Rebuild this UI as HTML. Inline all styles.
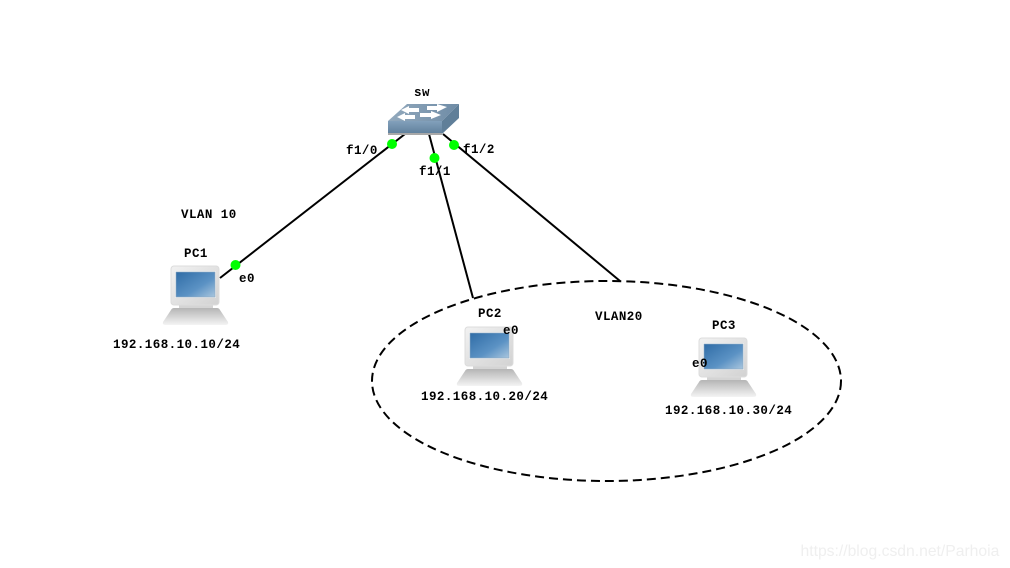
<!DOCTYPE html>
<html>
<head>
<meta charset="utf-8">
<style>
html,body{margin:0;padding:0;background:#fff;width:1010px;height:568px;overflow:hidden}
svg{display:block}
text{font-family:"Liberation Mono","Noto Serif CJK SC",monospace;font-weight:bold;font-size:12.5px;fill:#000;letter-spacing:.45px}
</style>
</head>
<body>
<svg width="1010" height="568" viewBox="0 0 1010 568" xmlns="http://www.w3.org/2000/svg">
<defs>
<linearGradient id="bez" x1="0" y1="0" x2="1" y2="1"><stop offset="0" stop-color="#f2f2f2"/><stop offset="1" stop-color="#d2d2d2"/></linearGradient>
<linearGradient id="scr" x1="0" y1="0" x2="1" y2="1"><stop offset="0" stop-color="#2f6ca6"/><stop offset=".6" stop-color="#5b92c4"/><stop offset="1" stop-color="#a9c6de"/></linearGradient>
<linearGradient id="kb" x1="0" y1="0" x2="0" y2="1"><stop offset="0" stop-color="#b5b5b5"/><stop offset="1" stop-color="#f4f4f4"/></linearGradient>
<linearGradient id="front" x1="0" y1="0" x2="0" y2="1"><stop offset="0" stop-color="#82a0bb"/><stop offset="1" stop-color="#5f7f9b"/></linearGradient>
<linearGradient id="top" x1="0" y1="0" x2="1" y2="0"><stop offset="0" stop-color="#92a9bd"/><stop offset="1" stop-color="#6f8ca6"/></linearGradient>
<g id="pc">
<rect x="8" y="37" width="34" height="7" fill="#d4d4d4"/>
<path d="M3 42H46Q48 42 49 44L57 56Q58 59 54 59H-5Q-9 59 -8 56L0 44Q1 42 3 42Z" fill="url(#kb)"/>
<rect x="0" y="0" width="48" height="39" rx="3" fill="url(#bez)" stroke="#dcdcdc"/>
<rect x="4" y="5" width="41" height="27" fill="#fff" opacity=".5"/>
<rect x="5" y="6" width="39" height="25" fill="url(#scr)" stroke="#8da9c2" stroke-width=".6"/>
</g>
</defs>

<rect width="1010" height="568" fill="#fff"/>

<ellipse cx="606.5" cy="381" rx="234.5" ry="100" fill="none" stroke="#000" stroke-width="2" stroke-dasharray="9 5"/>

<g stroke="#000" stroke-width="2" fill="none">
<line x1="405" y1="134" x2="220" y2="278"/>
<line x1="429" y1="134" x2="473" y2="298"/>
<line x1="443" y1="134" x2="620" y2="281"/>
</g>

<!-- switch -->
<path d="M388 121L407 104H459L442 121Z" fill="url(#top)"/>
<path d="M442 121L459 104V118L442 134Z" fill="#607f99"/>
<rect x="388" y="121" width="54" height="13" fill="url(#front)"/>
<rect x="388" y="133" width="54" height="2" fill="#a8a8a8"/>
<g fill="#fff">
<path d="M403 110L411 106V108H421V112H411V114Z" transform="translate(-2,0)"/>
<path d="M448 107L438 104V106H428V110H438V112Z" transform="translate(-1,0)"/>
<path d="M397 117L405 113V115H415V119H405V121Z"/>
<path d="M442 114L432 110V112H421V116H432V118Z" transform="translate(-1,1)"/>
</g>

<use href="#pc" x="171" y="266"/>
<use href="#pc" x="465" y="327"/>
<use href="#pc" x="699" y="338"/>

<g fill="#00ff00">
<circle cx="392" cy="144" r="5"/>
<circle cx="434.500" cy="158" r="5"/>
<circle cx="454" cy="145" r="5"/>
<circle cx="235.500" cy="265" r="5"/>
</g>

<text x="414" y="96">sw</text>
<text x="346" y="154">f1/0</text>
<text x="419" y="175">f1/1</text>
<text x="463" y="153">f1/2</text>
<text x="181" y="218">VLAN 10</text>
<text x="184" y="257">PC1</text>
<text x="239" y="282">e0</text>
<text x="113" y="348">192.168.10.10/24</text>
<text x="478" y="317">PC2</text>
<text x="503" y="334">e0</text>
<text x="421" y="400">192.168.10.20/24</text>
<text x="595" y="320">VLAN20</text>
<text x="712" y="329">PC3</text>
<text x="692" y="367">e0</text>
<text x="665" y="414">192.168.10.30/24</text>

<text x="800.500" y="556" style="font-family:'Liberation Sans',sans-serif;font-weight:normal;font-size:15.7px;fill:#efefef;letter-spacing:0">https://blog.csdn.net/Parhoia</text>
</svg>
</body>
</html>
